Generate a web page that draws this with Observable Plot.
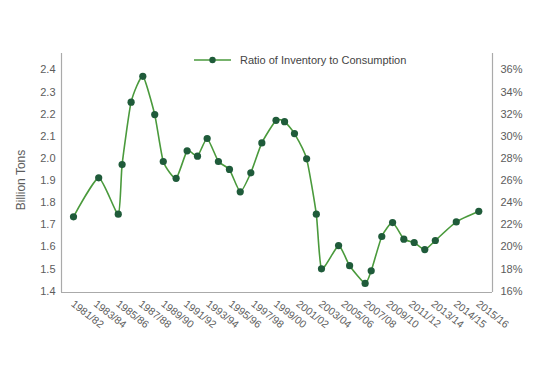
<!DOCTYPE html>
<html>
<head>
<meta charset="utf-8">
<script src="https://cdn.jsdelivr.net/npm/d3@7"></script>
<script src="https://cdn.jsdelivr.net/npm/@observablehq/plot@0.6"></script>
<style>
  html, body { margin: 0; padding: 0; background: #fff; }
  #wrap { position: relative; width: 548px; height: 377px; font-family: "Liberation Sans", Arial, sans-serif; }
  #legend { position: absolute; left: 194px; top: 54px; display: flex; align-items: center; font-size: 11px; color: #444; }
  #legend svg { margin-right: 9px; }
</style>
</head>
<body>
<div id="wrap"><div id="legend"></div></div>
<script>
// Category labels along the x axis (evenly spaced)
const xLabels = ["1981/82","1983/84","1985/86","1987/88","1989/90","1991/92","1993/94","1995/96","1997/98","1999/00","2001/02","2003/04","2005/06","2007/08","2009/10","2011/12","2013/14","2014/15","2015/16"];
// Point position along the x axis, in label-slot units
const xPos = [0, 1.12, 1.99, 2.16, 2.56, 3.08, 3.61, 3.99, 4.56, 5.05, 5.51, 5.94, 6.44, 6.93, 7.41, 7.88, 8.37, 9.0, 9.38, 9.82, 10.36, 10.79, 11.02, 11.78, 12.27, 12.96, 13.23, 13.70, 14.18, 14.68, 15.14, 15.61, 16.08, 17.01, 18.01];
// Inventory, billion tons
const inventory = [1.736, 1.912, 1.748, 1.972, 2.254, 2.371, 2.198, 1.986, 1.910, 2.034, 2.010, 2.090, 1.986, 1.950, 1.849, 1.935, 2.070, 2.172, 2.166, 2.112, 1.998, 1.748, 1.501, 1.606, 1.515, 1.435, 1.492, 1.647, 1.710, 1.635, 1.620, 1.588, 1.629, 1.713, 1.761];
// Left axis ticks and right axis (ratio) labels
const leftTicks = [1.4, 1.5, 1.6, 1.7, 1.8, 1.9, 2.0, 2.1, 2.2, 2.3, 2.4];
const rightLabels = ["16%","18%","20%","22%","24%","26%","28%","30%","32%","34%","36%"];
const seriesName = "Ratio of Inventory to Consumption";
const yTitle = "Billion Tons";

const data = xPos.map((x, i) => ({x, v: inventory[i]}));
const lineColor = "#4a9a3c";
const dotColor = "#1f5b3a";
const axisColor = "#aaaaaa";
const textColor = "#5c5c5c";

const chart = Plot.plot({
  width: 548,
  height: 377,
  marginLeft: 61,
  marginRight: 56,
  marginTop: 53,
  marginBottom: 85,
  style: {fontFamily: "Liberation Sans, Arial, sans-serif", fontSize: "11px", color: textColor, background: "white"},
  x: {domain: [-0.533, 18.62]},
  y: {domain: [1.394, 2.474]},
  marks: [
    Plot.axisY({ticks: leftTicks, tickSize: 0, tickPadding: 6, tickFormat: d => d.toFixed(1), label: null, fill: textColor, fontSize: 11}),
    Plot.axisY({ticks: leftTicks, anchor: "right", tickSize: 0, tickPadding: 8, tickFormat: (d, i) => rightLabels[i], label: null, fill: textColor, fontSize: 11}),
    Plot.axisX({ticks: d3.range(xLabels.length), tickSize: 0, tickPadding: 10, tickRotate: 38, tickFormat: i => xLabels[i], label: null, fill: textColor, fontSize: 10.5, dx: -1}),
    Plot.ruleX([-0.533], {stroke: axisColor, strokeWidth: 1.2}),
    Plot.ruleX([18.62], {stroke: axisColor, strokeWidth: 1.2}),
    Plot.ruleY([1.394], {stroke: axisColor, strokeWidth: 1.2}),
    Plot.line(data, {x: "x", y: "v", curve: "cardinal", tension: 0.45, stroke: lineColor, strokeWidth: 1.6}),
    Plot.dot(data, {x: "x", y: "v", r: 3.6, fill: dotColor, stroke: "none"}),
    Plot.text([yTitle], {frameAnchor: "left", text: d => d, rotate: -90, dx: -40, dy: 7, fill: textColor, fontSize: 12, textAnchor: "middle", lineAnchor: "middle"})
  ]
});
document.getElementById("wrap").prepend(chart);

document.getElementById("legend").innerHTML =
  `<svg width="37" height="10"><line x1="0" y1="5" x2="37" y2="5" stroke="${lineColor}" stroke-width="1.6"/><circle cx="18.5" cy="5" r="3.2" fill="${dotColor}"/></svg><span>${seriesName}</span>`;
</script>
</body>
</html>
